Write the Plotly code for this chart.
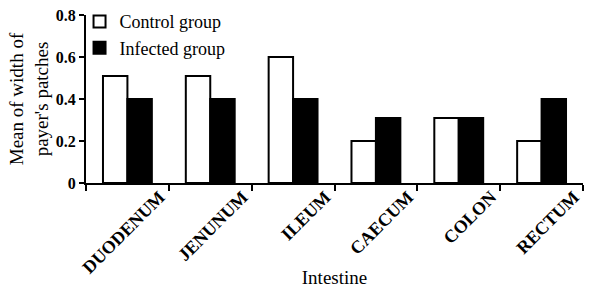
import plotly.graph_objects as go

categories = ["DUODENUM", "JENUNUM", "ILEUM", "CAECUM", "COLON", "RECTUM"]
control_group = [0.51, 0.51, 0.6, 0.2, 0.31, 0.2]
infected_group = [0.4, 0.4, 0.4, 0.31, 0.31, 0.4]
y_ticks = [0, 0.2, 0.4, 0.6, 0.8]
y_tick_labels = ["0", "0.2", "0.4", "0.6", "0.8"]

idx = list(range(len(categories)))
boundaries = [i - 0.5 for i in idx] + [len(categories) - 0.5]
label_pos = [i + 0.39 for i in idx]

FONT = "Liberation Serif"
xr = [-0.5, len(categories) - 0.5]

fig = go.Figure()
fig.add_trace(go.Bar(x=idx, y=control_group, name="Control group",
                     marker=dict(color="white", line=dict(color="black", width=2))))
fig.add_trace(go.Bar(x=idx, y=infected_group, name="Infected group",
                     marker=dict(color="black", line=dict(color="black", width=2))))
# invisible trace to activate the label axis
fig.add_trace(go.Scatter(x=label_pos, y=[0] * len(idx), xaxis="x2", mode="markers",
                         marker=dict(opacity=0), showlegend=False, hoverinfo="skip"))

fig.update_layout(
    width=589, height=288,
    margin=dict(l=86, r=6, t=15, b=105, autoexpand=False),
    paper_bgcolor="white", plot_bgcolor="white",
    barmode="group", bargap=0.41, bargroupgap=0,
    font=dict(family=FONT, color="black", size=18),
    showlegend=True,
    legend=dict(x=-0.013, y=1.07, xanchor="left", yanchor="top",
                font=dict(family=FONT, size=18, color="black"),
                bgcolor="rgba(0,0,0,0)", tracegroupgap=0, itemwidth=30),
    xaxis=dict(range=xr, tickmode="array", tickvals=boundaries, showticklabels=False,
               ticks="outside", ticklen=6, tickwidth=2, tickcolor="black", automargin=False,
               showline=True, linecolor="black", linewidth=2, showgrid=False, zeroline=False,
               title=dict(text="Intestine", font=dict(family=FONT, size=19, color="black"),
                          standoff=81)),
    xaxis2=dict(overlaying="x", side="bottom", range=xr, tickmode="array",
                tickvals=label_pos, ticktext=categories, tickangle=-45, ticks="",
                ticklabelstandoff=-1,
                showline=False, showgrid=False, zeroline=False, automargin=False,
                tickfont=dict(family=FONT, size=18, color="black", weight="bold")),
    yaxis=dict(range=[0, 0.8], tickmode="array", tickvals=y_ticks, ticktext=y_tick_labels,
               ticks="outside", ticklen=5, tickwidth=2, tickcolor="black", automargin=False,
               showline=True, linecolor="black", linewidth=2, showgrid=False, zeroline=False,
               tickfont=dict(family=FONT, size=16, color="black", weight="bold"),
               title=dict(text="Mean of width of<br>payer's patches",
                          font=dict(family=FONT, size=19, color="black"), standoff=2)),
)

fig.write_html("out.html", post_script="document.body.style.margin='0';",
               config={"displayModeBar": False})
